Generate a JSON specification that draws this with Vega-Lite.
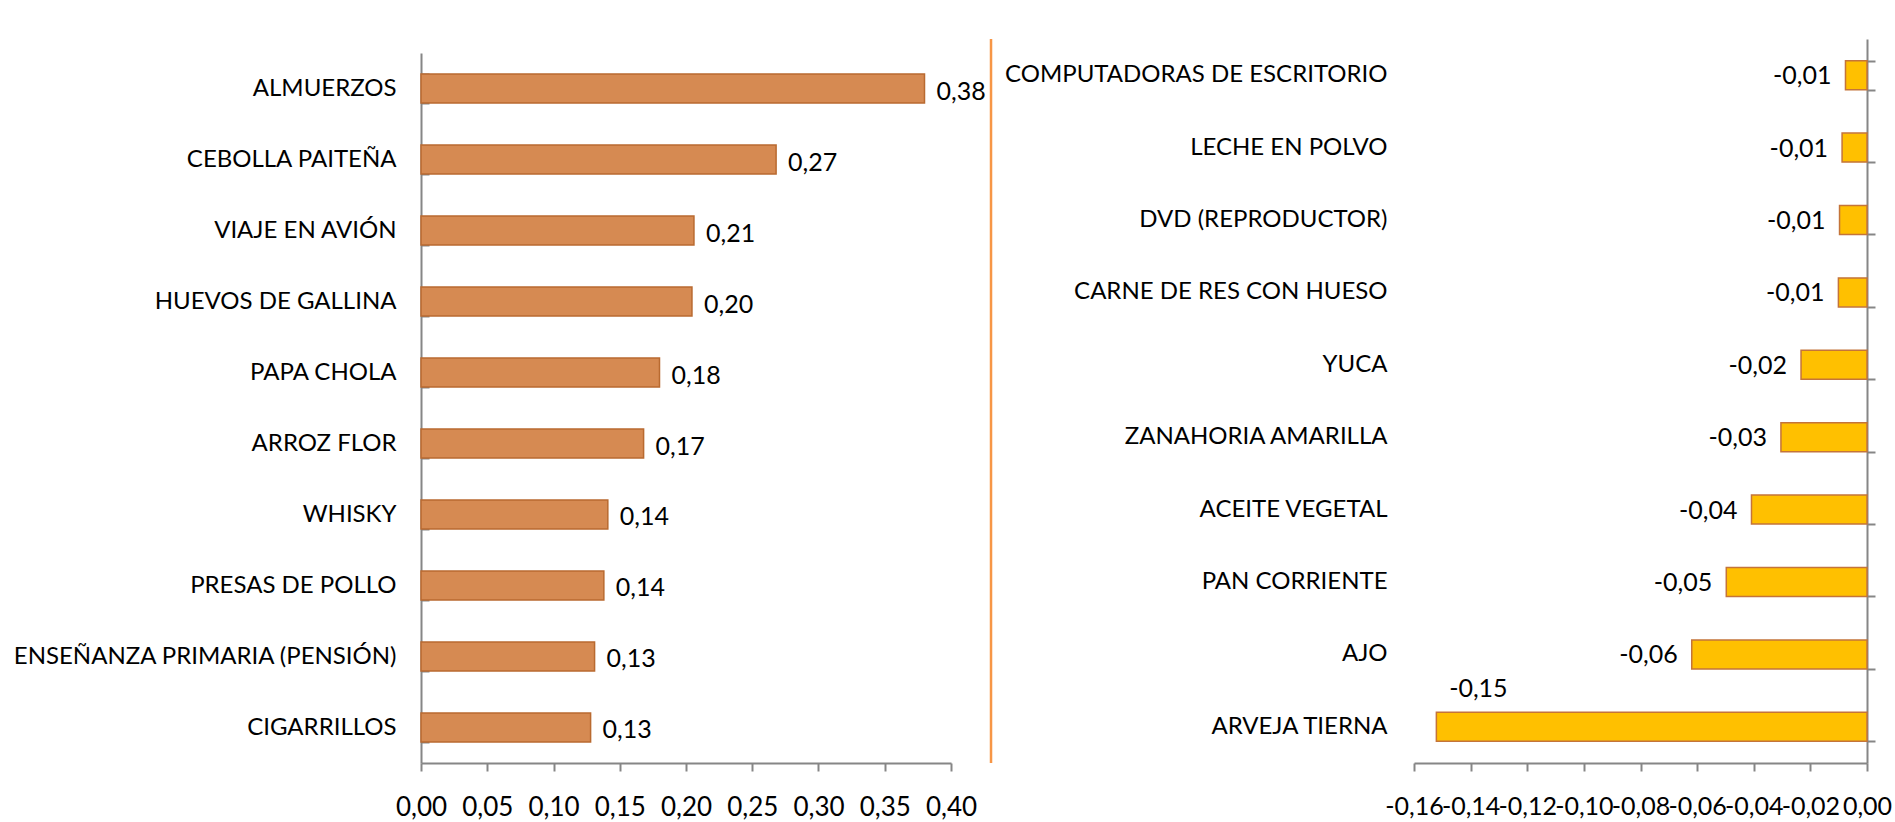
{
  "$schema": "https://vega.github.io/schema/vega-lite/v6.json",
  "background": "white",
  "padding": {"left": 11, "top": 27, "right": 5, "bottom": 5},
  "config": {
    "font": "Lato",
    "view": {"stroke": null},
    "locale": {"number": {"decimal": ",", "thousands": ".", "grouping": [3], "currency": ["$", ""], "minus": "-"}},
    "axis": {"labelFont": "Lato", "labelFontSize": 24, "labelLimit": 0, "labelColor": "#000000", "domainColor": "#868686", "domainWidth": 2, "tickColor": "#868686", "tickWidth": 2, "title": null, "grid": false}
  },
  "bounds": "flush",
  "spacing": 463,
  "hconcat": [
    {
      "width": 530,
      "height": 724,
      "data": {"values": [
        {"item": "ALMUERZOS", "value": 0.38},
        {"item": "CEBOLLA PAITEÑA", "value": 0.268},
        {"item": "VIAJE EN AVIÓN", "value": 0.206},
        {"item": "HUEVOS DE GALLINA", "value": 0.2045},
        {"item": "PAPA CHOLA", "value": 0.18},
        {"item": "ARROZ FLOR", "value": 0.168},
        {"item": "WHISKY", "value": 0.141},
        {"item": "PRESAS DE POLLO", "value": 0.138},
        {"item": "ENSEÑANZA PRIMARIA (PENSIÓN)", "value": 0.131},
        {"item": "CIGARRILLOS", "value": 0.128}
      ]},
      "layer": [
        {
          "mark": {"type": "bar", "fill": "#D68A52", "stroke": "#B96A30", "strokeWidth": 1.5},
          "encoding": {
            "y": {"field": "item", "type": "nominal", "sort": null,
              "scale": {"paddingInner": 0.5915, "paddingOuter": 0.3944, "align": 0.625},
              "axis": {"tickBand": "extent", "tickSize": -8, "labelPadding": 33, "domainDash": [0, 14, 720]}},
            "x": {"field": "value", "type": "quantitative",
              "scale": {"domain": [0, 0.4], "nice": false},
              "axis": {"values": [0, 0.05, 0.1, 0.15, 0.2, 0.25, 0.3, 0.35, 0.4], "format": ".2f", "tickSize": 8, "labelPadding": 23, "labelFontSize": 26, "labelFlush": false, "labelOverlap": false}}
          }
        },
        {
          "mark": {"type": "text", "align": "left", "baseline": "middle", "dx": 12, "dy": 3, "fontSize": 25, "font": "Lato", "color": "#000000"},
          "encoding": {
            "y": {"field": "item", "type": "nominal", "sort": null},
            "x": {"field": "value", "type": "quantitative"},
            "text": {"field": "value", "type": "quantitative", "format": ".2f"}
          }
        },
        {
          "data": {"values": [{}]},
          "mark": {"type": "rule", "stroke": "#F79646", "strokeWidth": 2.5},
          "encoding": {"x": {"datum": 0.4302}}
        }
      ]
    },
    {
      "width": 453,
      "height": 724,
      "data": {"values": [
        {"item": "COMPUTADORAS DE ESCRITORIO", "value": -0.0076},
        {"item": "LECHE EN POLVO", "value": -0.0088},
        {"item": "DVD (REPRODUCTOR)", "value": -0.0097},
        {"item": "CARNE DE RES CON HUESO", "value": -0.0101},
        {"item": "YUCA", "value": -0.0233},
        {"item": "ZANAHORIA AMARILLA", "value": -0.0304},
        {"item": "ACEITE VEGETAL", "value": -0.0408},
        {"item": "PAN CORRIENTE", "value": -0.0497},
        {"item": "AJO", "value": -0.0619},
        {"item": "ARVEJA TIERNA", "value": -0.1521}
      ]},
      "resolve": {"axis": {"y": "independent"}},
      "layer": [
        {
          "mark": {"type": "bar", "fill": "#FFC000", "stroke": "#C4743A", "strokeWidth": 1.5},
          "encoding": {
            "y": {"field": "item", "type": "nominal", "sort": null,
              "scale": {"paddingInner": 0.6, "paddingOuter": 0.3},
              "axis": {"orient": "left", "domain": false, "ticks": false, "labelPadding": 27}},
            "x": {"field": "value", "type": "quantitative",
              "scale": {"domain": [-0.16, 0], "nice": false},
              "axis": {"values": [-0.16, -0.14, -0.12, -0.1, -0.08, -0.06, -0.04, -0.02, 0], "format": ".2f", "tickSize": 8, "labelPadding": 23, "labelFontSize": 25, "labelFlush": false, "labelOverlap": false, "labelBound": false}}
          }
        },
        {
          "transform": [{"filter": "datum.item !== 'ARVEJA TIERNA'"}],
          "mark": {"type": "text", "align": "right", "baseline": "middle", "dx": -14, "dy": 1, "fontSize": 25, "font": "Lato", "color": "#000000"},
          "encoding": {
            "y": {"field": "item", "type": "nominal", "sort": null,
              "axis": {"orient": "right", "labels": false, "tickBand": "extent", "tickSize": 8, "domain": true}},
            "x": {"field": "value", "type": "quantitative"},
            "text": {"field": "value", "type": "quantitative", "format": ".2f"}
          }
        },
        {
          "transform": [{"filter": "datum.item === 'ARVEJA TIERNA'"}],
          "mark": {"type": "text", "align": "center", "baseline": "middle", "dx": 42, "dy": -38, "fontSize": 25, "font": "Lato", "color": "#000000"},
          "encoding": {
            "y": {"field": "item", "type": "nominal", "sort": null, "axis": null},
            "x": {"field": "value", "type": "quantitative"},
            "text": {"field": "value", "type": "quantitative", "format": ".2f"}
          }
        }
      ]
    }
  ]
}
